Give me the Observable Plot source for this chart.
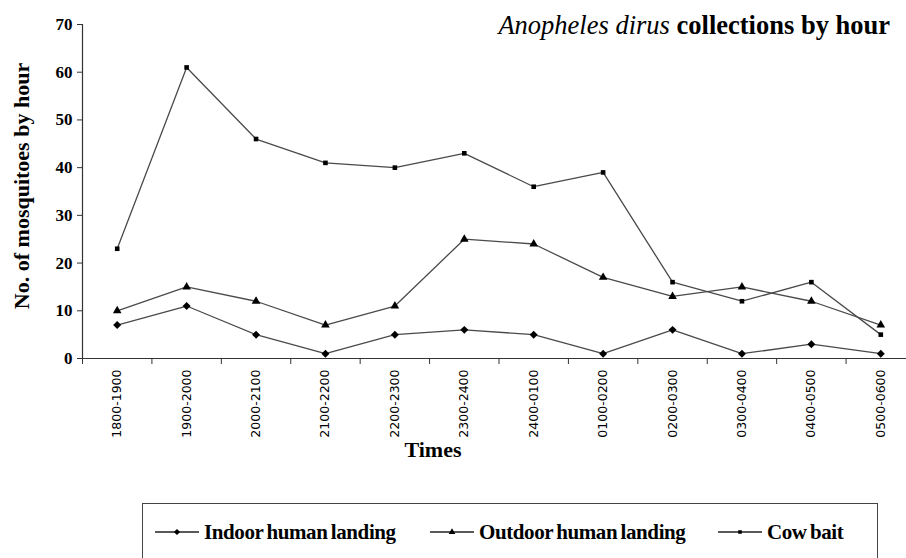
<!DOCTYPE html>
<html><head><meta charset="utf-8">
<script src="https://cdn.jsdelivr.net/npm/d3@7"></script>
<script src="https://cdn.jsdelivr.net/npm/@observablehq/plot@0.6"></script>
<style>
body{margin:0;background:#fff;}
#wrap{position:relative;width:906px;height:558px;overflow:hidden;font-family:"Liberation Serif","Times New Roman",serif;color:#000;}
#title{position:absolute;right:16px;top:10px;font-size:26.5px;white-space:nowrap;}
#title i{font-style:italic;}
#title b{font-weight:bold;}
#ylabel{position:absolute;left:22px;top:186px;transform:translate(-50%,-50%) rotate(-90deg);font-size:22px;font-weight:bold;white-space:nowrap;}
#xlabel{position:absolute;left:433px;top:450px;transform:translate(-50%,-50%);font-size:22px;font-weight:bold;}
#legend{position:absolute;left:142px;top:503px;width:736px;height:80px;border:1.5px solid #444;box-sizing:border-box;}
.li{position:absolute;top:17px;display:flex;align-items:center;font-size:21px;font-weight:bold;letter-spacing:-0.4px;word-spacing:-1.5px;white-space:pre;line-height:22px;}
.li svg{margin-right:5px;}
#plot{position:absolute;left:0;top:0;}
</style>
</head><body>
<div id="wrap">
<div id="plot"></div>
<div id="title"><i>Anopheles dirus</i> <b>collections by hour</b></div>
<div id="ylabel">No. of mosquitoes by hour</div>
<div id="xlabel">Times</div>
<div id="legend"></div>
</div>
<script>
const times = ["1800-1900","1900-2000","2000-2100","2100-2200","2200-2300","2300-2400","2400-0100","0100-0200","0200-0300","0300-0400","0400-0500","0500-0600"];
const indoor = [7, 11, 5, 1, 5, 6, 5, 1, 6, 1, 3, 1];
const outdoor = [10, 15, 12, 7, 11, 25, 24, 17, 13, 15, 12, 7];
const cowbait = [23, 61, 46, 41, 40, 43, 36, 39, 16, 12, 16, 5];
const seriesNames = ["Indoor human landing", "Outdoor human landing", "Cow bait"];
const yTicks = [0, 10, 20, 30, 40, 50, 60, 70];

const seriesVals = [indoor, outdoor, cowbait];
const symbols = ["diamond2", "triangle", "square"];
const radii = [3.6, 3.2, 2.6];
const data = [];
seriesNames.forEach((s, si) => seriesVals[si].forEach((v, i) => data.push({series: s, x: i + 0.5, time: times[i], value: v})));

const marks = [
  Plot.ruleY([0], {stroke: "#333", strokeWidth: 1.2}),
  Plot.ruleX([0], {stroke: "#333", strokeWidth: 1.2}),
  Plot.axisY({ticks: yTicks, tickSize: 5, tickPadding: 5, fontSize: 17, fontFamily: "Liberation Serif", fontWeight: "bold", label: null, stroke: "#333"}),
  Plot.axisX({ticks: d3.range(0, times.length + 1), tickSize: 6, tickFormat: () => "", label: null, stroke: "#333"}),
  Plot.axisX({ticks: times.map((t, i) => i + 0.5), tickSize: 0, tickPadding: 11, tickRotate: -90, tickFormat: d => times[Math.floor(d)], fontSize: 12.5, fontFamily: "DejaVu Sans", label: null}),
  Plot.line(data, {x: "x", y: "value", z: "series", stroke: "#4a4a4a", strokeWidth: 1.3})
];
seriesNames.forEach((s, si) => {
  marks.push(Plot.dot(data.filter(d => d.series === s), {x: "x", y: "value", symbol: () => symbols[si], r: radii[si], fill: "#000", stroke: "none"}));
});

const chart = Plot.plot({
  width: 906,
  height: 558,
  marginLeft: 82,
  marginRight: 0,
  marginTop: 24,
  marginBottom: 200,
  style: {fontFamily: "Liberation Serif", background: "transparent", overflow: "visible"},
  x: {type: "linear", domain: [0, times.length], range: [82, 915], axis: null},
  y: {domain: [0, 70], axis: null},
  symbol: {type: "identity"},
  marks
});
document.getElementById("plot").appendChild(chart);

// legend
const legend = document.getElementById("legend");
const lx = [12, 287, 575];
seriesNames.forEach((s, si) => {
  const item = document.createElement("div");
  item.className = "li";
  item.style.left = lx[si] + "px";
  const sym = d3.symbol(si === 0 ? d3.symbolDiamond2 : si === 1 ? d3.symbolTriangle : d3.symbolSquare, Math.PI * radii[si] * radii[si] * 0.6)();
  item.innerHTML = `<svg width="44" height="12"><line x1="0" x2="44" y1="6" y2="6" stroke="#222" stroke-width="1.3"/><path d="${sym}" transform="translate(22,6)" fill="#000"/></svg>${s}`;
  legend.appendChild(item);
});
</script>
</body></html>
